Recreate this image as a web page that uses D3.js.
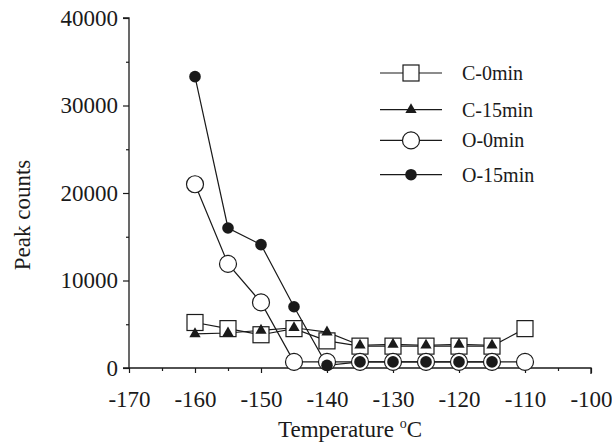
<!DOCTYPE html>
<html>
<head>
<meta charset="utf-8">
<script src="https://cdn.jsdelivr.net/npm/d3@7"></script>
<style>
  body { margin: 0; background: #fff; }
  svg, svg text { font-family: "Liberation Serif", "DejaVu Serif", "Times New Roman", serif; }
</style>
</head>
<body>
<svg id="viz"></svg>
<script>
// temperatures (°C)
const temps = [-160, -155, -150, -145, -140, -135, -130, -125, -120, -115, -110];

// peak counts (null = no point)
const c0 = [5200, 4500, 3800, 4500, 3100, 2500, 2500, 2500, 2500, 2500, 4500];
const c15 = [3900, 4000, 4300, 4600, 4100, 2600, 2700, 2600, 2700, 2600, null];
const o0 = [21000, 11900, 7500, 700, 700, 700, 700, 700, 700, 700, 700];
const o15 = [33300, 16000, 14100, 7000, 300, 700, 700, 700, 700, 700, null];

const seriesNames = ["C-0min", "C-15min", "O-0min", "O-15min"];
const seriesValues = [c0, c15, o0, o15];
const markers = ["square", "triangle", "openCircle", "dot"];

const xTicks = [-170, -160, -150, -140, -130, -120, -110, -100];
const yTicks = [0, 10000, 20000, 30000, 40000];

const width = 612, height = 443;
const margin = { top: 18, right: 21, bottom: 75, left: 129 };
const serif = '"Liberation Serif", "DejaVu Serif", serif';

const svg = d3.select("#viz")
  .attr("width", width)
  .attr("height", height)
  .attr("viewBox", [0, 0, width, height]);

const x = d3.scaleLinear()
  .domain([-170, -100])
  .range([margin.left, width - margin.right]);

const y = d3.scaleLinear()
  .domain([0, 40000])
  .range([height - margin.bottom, margin.top]);

const ink = "#1a1a1a";

// y axis: major ticks + minor ticks every 5000
svg.append("g")
  .attr("transform", `translate(${margin.left},0)`)
  .call(d3.axisLeft(y).tickValues(d3.range(0, 40001, 5000)).tickSize(6).tickPadding(5)
    .tickFormat(d => yTicks.includes(d) ? d : ""))
  .call(g => {
    g.attr("font-family", null).attr("font-size", null);
    g.select(".domain").attr("stroke", ink).attr("stroke-width", 1.3).attr("d", `M-6,${y(40000)}H0V${y(0)}`);
    g.selectAll(".tick line").attr("stroke", ink).attr("stroke-width", 1.2)
      .attr("x2", d => yTicks.includes(d) ? -6 : -3);
    g.selectAll(".tick text").attr("fill", ink)
      .style("font-size", "23px").style("font-family", serif);
  });

// x axis
svg.append("g")
  .attr("transform", `translate(0,${y(0)})`)
  .call(d3.axisBottom(x).tickValues(d3.range(-170, -99, 5)).tickSize(5)
    .tickFormat(d => xTicks.includes(d) ? d : ""))
  .call(g => {
    g.attr("font-family", null).attr("font-size", null);
    g.select(".domain").attr("stroke", ink).attr("stroke-width", 1.3).attr("d", `M${x(-170)-6},0H${x(-100)}V6`);
    g.selectAll(".tick line").attr("stroke", ink).attr("stroke-width", 1.2)
      .attr("y2", d => xTicks.includes(d) ? 5 : 3);
    g.selectAll(".tick text").attr("fill", ink).attr("y", 23)
      .style("font-size", "23px").style("font-family", serif);
  });

// axis titles
const title = svg.append("text")
  .attr("x", 350)
  .attr("y", 437)
  .attr("text-anchor", "middle")
  .attr("fill", ink)
  .style("font-size", "23px").style("font-family", serif);
title.append("tspan").text("Temperature ");
title.append("tspan").attr("dy", -9).style("font-size", "14px").text("o");
title.append("tspan").attr("dy", 9).text("C");

svg.append("text")
  .attr("transform", "translate(30,215) rotate(-90)")
  .attr("text-anchor", "middle")
  .attr("fill", ink)
  .style("font-size", "23px").style("font-family", serif)
  .text("Peak counts");

// marker drawing
function drawMarker(sel, kind) {
  if (kind === "square") {
    sel.append("rect").attr("x", -8).attr("y", -8).attr("width", 16).attr("height", 16)
      .attr("fill", "#fff").attr("stroke", ink).attr("stroke-width", 1.2);
  } else if (kind === "triangle") {
    sel.append("path").attr("d", d3.symbol(d3.symbolTriangle, 55)())
      .attr("fill", ink);
  } else if (kind === "openCircle") {
    sel.append("circle").attr("r", 8.5)
      .attr("fill", "#fff").attr("stroke", ink).attr("stroke-width", 1.2);
  } else {
    sel.append("circle").attr("r", 5.8).attr("fill", ink);
  }
}

const line = d3.line()
  .defined(d => d.v != null)
  .x(d => x(d.t))
  .y(d => y(d.v));

const drawOrder = [0, 2, 3, 1];
drawOrder.forEach(i => {
  const pts = temps.map((t, j) => ({ t, v: seriesValues[i][j] }));
  svg.append("path")
    .datum(pts)
    .attr("fill", "none")
    .attr("stroke", ink)
    .attr("stroke-width", 1.2)
    .attr("d", line);
});
drawOrder.forEach(i => {
  const pts = temps.map((t, j) => ({ t, v: seriesValues[i][j] })).filter(d => d.v != null);
  svg.append("g").selectAll("g")
    .data(pts)
    .join("g")
    .attr("transform", d => `translate(${x(d.t)},${y(d.v)})`)
    .each(function() { drawMarker(d3.select(this), markers[i]); });
});

// legend
const legend = svg.append("g").attr("transform", "translate(380,73)");
seriesNames.forEach((name, i) => {
  const row = legend.append("g").attr("transform", `translate(0,${[0, 36.7, 67.4, 101.7][i]})`);
  row.append("line").attr("x1", 0).attr("x2", 62).attr("stroke", ink).attr("stroke-width", 1.2);
  drawMarker(row.append("g").attr("transform", "translate(31,0)"), markers[i]);
  row.append("text")
    .attr("x", 82).attr("dy", "0.35em")
    .attr("fill", ink)
    .style("font-size", "20px").style("font-family", serif)
    .text(name);
});
</script>
</body>
</html>
